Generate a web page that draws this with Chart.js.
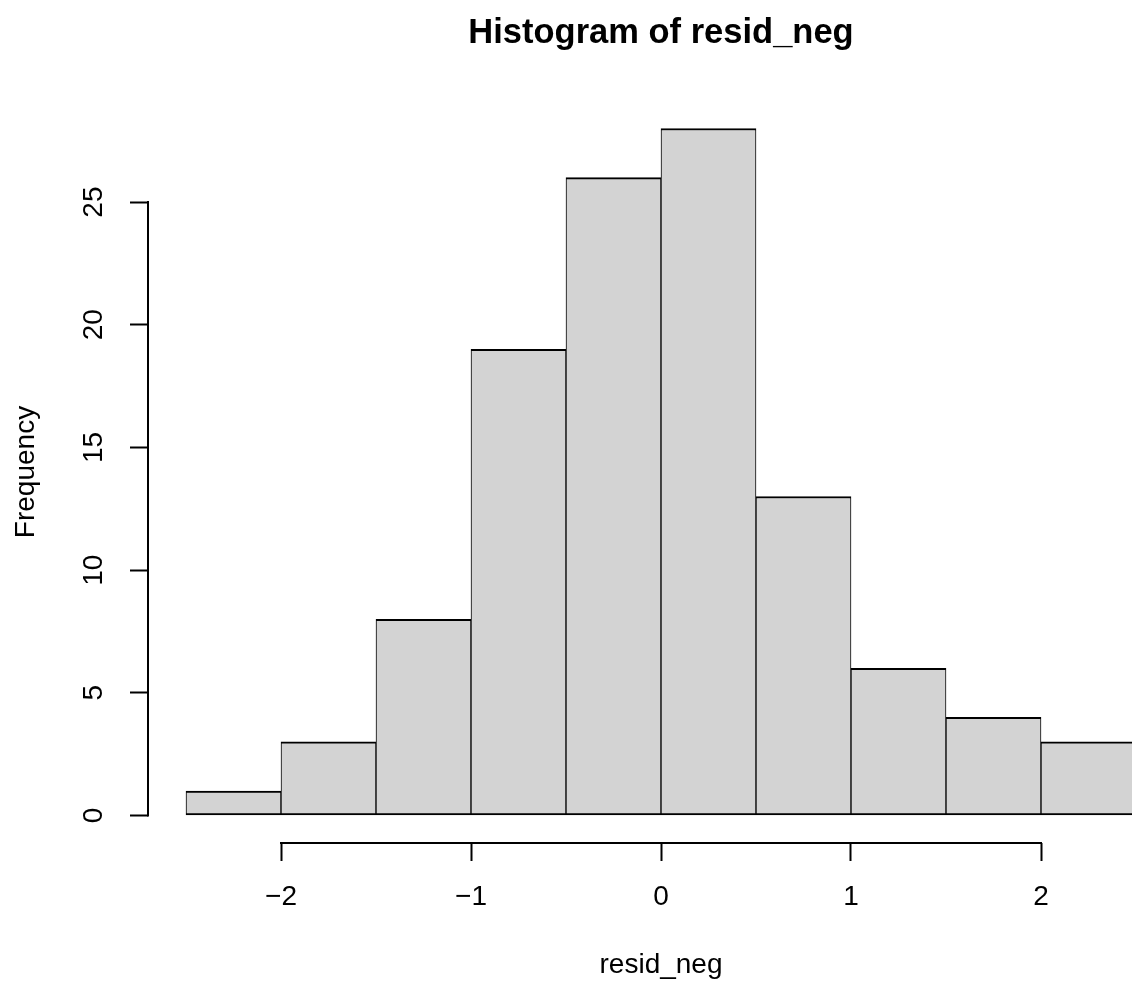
<!DOCTYPE html>
<html><head><meta charset="utf-8">
<script src="https://cdn.jsdelivr.net/npm/chart.js@4/dist/chart.umd.min.js"></script>
<style>
html,body{margin:0;padding:0;overflow:hidden;background:#fff;width:1132px;height:984px}
#wrap{width:1174px;height:984px}
</style></head>
<body><div id="wrap"><canvas id="c" width="1174" height="984"></canvas></div>
<script>
const binEdges = [-2.5, -2, -1.5, -1, -0.5, 0, 0.5, 1, 1.5, 2, 2.5];
const counts = [1, 3, 8, 19, 26, 28, 13, 6, 4, 3];
const xTicks = [-2, -1, 0, 1, 2];
const yTicks = [0, 5, 10, 15, 20, 25];
const chartTitle = 'Histogram of resid_neg';
const xLabel = 'resid_neg';
const yLabel = 'Frequency';

// R-style 4% range extension
const xLo = binEdges[0], xHi = binEdges[binEdges.length - 1];
const xPad = (xHi - xLo) * 0.04;
const yHi = Math.max(...counts);
const yPad = yHi * 0.04;

const points = counts.map((c, i) => ({ x: (binEdges[i] + binEdges[i + 1]) / 2, y: c }));
const fmt = v => v < 0 ? '\u2212' + Math.abs(v) : String(v);

Chart.defaults.font.family = "'Liberation Sans', Arial, sans-serif";
Chart.defaults.font.size = 28;
Chart.defaults.color = '#000';

const axisLines = {
  id: 'axisLines',
  afterDraw(chart) {
    const { ctx, scales: { x, y }, chartArea } = chart;
    ctx.save();
    ctx.strokeStyle = '#000';
    ctx.lineWidth = 2;
    ctx.beginPath();
    ctx.moveTo(x.getPixelForValue(xTicks[0]) - 1, chartArea.bottom);
    ctx.lineTo(x.getPixelForValue(xTicks[xTicks.length - 1]) + 1, chartArea.bottom);
    ctx.moveTo(chartArea.left, y.getPixelForValue(yTicks[0]) + 1);
    ctx.lineTo(chartArea.left, y.getPixelForValue(yTicks[yTicks.length - 1]) - 1);
    ctx.stroke();
    ctx.restore();
  }
};

new Chart(document.getElementById('c'), {
  type: 'bar',
  data: {
    datasets: [{
      data: points,
      backgroundColor: '#D3D3D3',
      borderColor: '#000',
      borderWidth: { top: 2, bottom: 2, left: 1, right: 1 },
      borderSkipped: false,
      barPercentage: 1,
      categoryPercentage: 1
    }]
  },
  options: {
    responsive: false,
    animation: false,
    devicePixelRatio: 1,
    layout: { padding: 0 },
    plugins: {
      legend: { display: false },
      tooltip: { enabled: false },
      title: {
        display: true,
        text: chartTitle,
        fullSize: false,
        font: { size: 34.5, weight: 'bold' },
        color: '#000',
        padding: { top: 13, bottom: 46.6 }
      }
    },
    scales: {
      x: {
        type: 'linear',
        min: xLo - xPad,
        max: xHi + xPad,
        offset: false,
        afterBuildTicks: s => { s.ticks = xTicks.map(v => ({ value: v })); },
        afterFit: s => { s.height = 141; },
        ticks: { callback: fmt, padding: 19, maxRotation: 0, autoSkip: false },
        grid: { offset: false, drawOnChartArea: false, drawTicks: true, tickLength: 18, tickWidth: 2, tickColor: '#000' },
        border: { display: false },
        title: { display: true, text: xLabel, padding: { top: 0, bottom: 2 } }
      },
      y: {
        type: 'linear',
        min: -yPad,
        max: yHi + yPad,
        afterBuildTicks: s => { s.ticks = yTicks.map(v => ({ value: v })); },
        afterFit: s => { s.width = 148; },
        ticks: { callback: fmt, padding: 20, minRotation: 90, maxRotation: 90, crossAlign: 'center', autoSkip: false },
        grid: { drawOnChartArea: false, drawTicks: true, tickLength: 18, tickWidth: 2, tickColor: '#000' },
        border: { display: false },
        title: { display: true, text: yLabel, padding: { top: 9, bottom: 0 } }
      }
    }
  },
  plugins: [axisLines]
});
</script>
</body></html>
